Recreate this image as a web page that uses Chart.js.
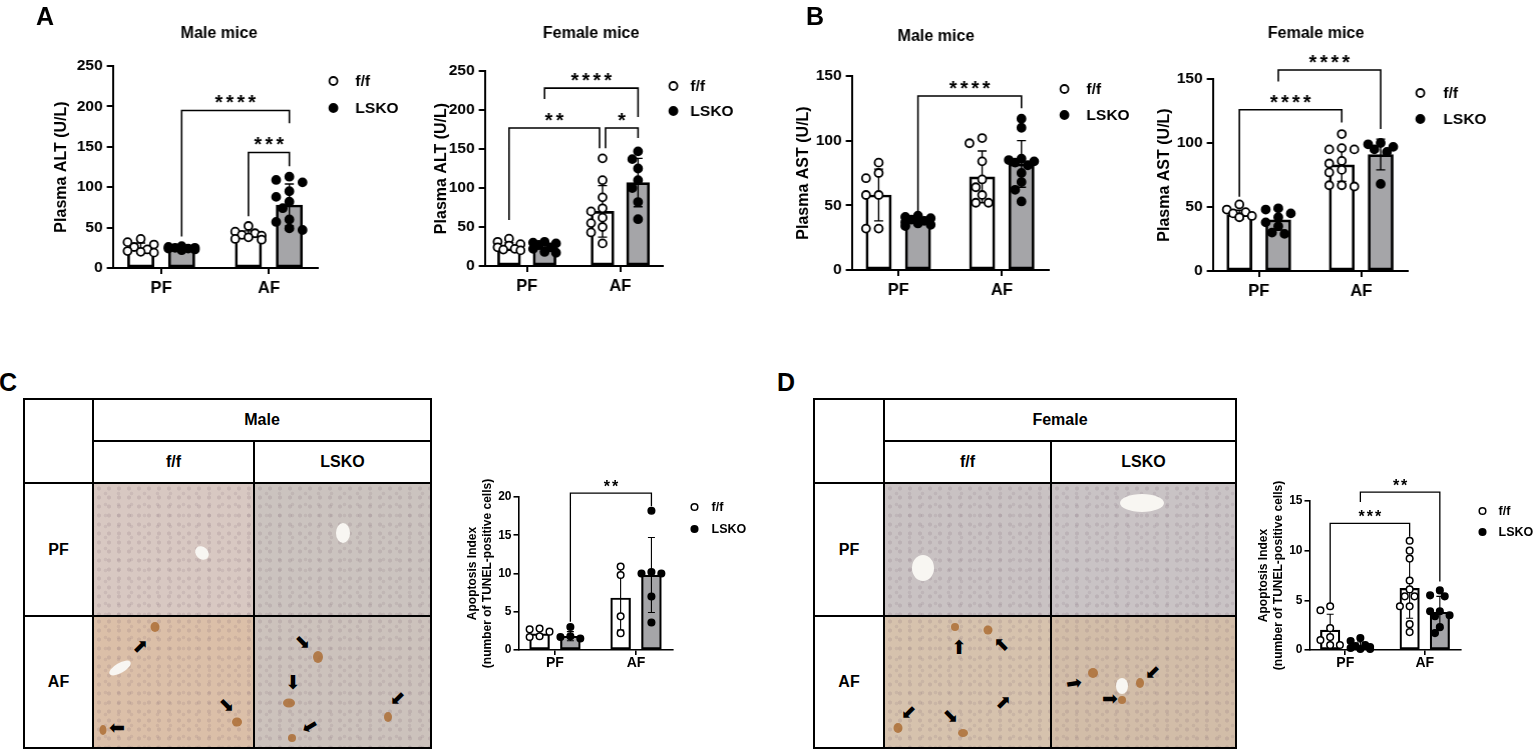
<!DOCTYPE html>
<html>
<head>
<meta charset="utf-8">
<script src="https://cdn.jsdelivr.net/npm/chart.js@4.4.0/dist/chart.umd.min.js"></script>
<style>
  body { margin: 0; background: #fff; font-family: 'Liberation Sans', Arial, sans-serif; }
  #page { position: relative; width: 1535px; height: 752px; overflow: hidden; background: #fff; }
  .box { position: absolute; }
  .letter { position: absolute; font-weight: bold; font-size: 25px; line-height: 1; }
  .cell { position: absolute; box-sizing: border-box; border: 2px solid #000; display: flex;
          align-items: center; justify-content: center; font-weight: bold; font-size: 16px; background: #fff; overflow: hidden; }
  .tissue { background-image:
      radial-gradient(circle, rgba(120,95,110,0.17) 0 1.7px, transparent 2.4px),
      radial-gradient(circle, rgba(120,95,110,0.13) 0 1.5px, transparent 2.2px);
    background-size: 10px 9px, 13px 11px; background-position: 0 0, 5px 4px; }
  .vessel { position: absolute; background: #f8f6f2; border-radius: 50%; transform: translate(-50%, -50%); }
  .tcell { position: absolute; border-radius: 50%; background: rgba(170,105,45,0.8); transform: translate(-50%, -50%); }
  .arrow { position: absolute; font-family: 'DejaVu Sans', sans-serif; font-size: 19px; line-height: 1; color: #000; }
</style>
</head>
<body>
<div id="page"></div>
<script>
const groups = ['PF', 'AF'];
const genotypes = ['f/f', 'LSKO'];

// A - plasma ALT, male mice (per group: [PF], [AF])
const altMaleFF = [[36, 32, 29, 26, 23, 21, 20, 19], [52, 45, 43, 41, 40, 38, 36, 35]];
const altMaleKO = [[27, 26, 25, 25, 24, 24, 23, 22], [113, 109, 106, 95, 88, 82, 74, 60, 57, 49, 47]];
const altMaleMeanFF = [25, 41];
const altMaleMeanKO = [24, 78];
const altMaleSdFF = [6, 5];
const altMaleSdKO = [2, 26];

// A - plasma ALT, female mice
const altFemaleFF = [[35, 31, 28, 26, 24, 22, 21, 20], [138, 110, 88, 74, 70, 62, 55, 50, 43, 29]];
const altFemaleKO = [[31, 30, 29, 27, 24, 22, 18, 17], [147, 137, 125, 110, 100, 82, 60]];
const altFemaleMeanFF = [25, 70];
const altFemaleMeanKO = [24, 107];
const altFemaleSdFF = [5, 33];
const altFemaleSdKO = [5, 31];

// B - plasma AST, male mice
const astMaleFF = [[83, 75, 71, 58, 58, 32, 32], [102, 98, 84, 70, 64, 58, 52, 52]];
const astMaleKO = [[42, 41, 40, 39, 38, 37, 36, 35, 34], [117, 110, 86, 85, 84, 83, 81, 75, 68, 62, 53]];
const astMaleMeanFF = [58, 72];
const astMaleMeanKO = [39, 82];
const astMaleSdFF = [20, 20];
const astMaleSdKO = [3, 18];

// B - plasma AST, female mice
const astFemaleFF = [[52, 48, 46, 45, 43, 42], [107, 96, 95, 95, 86, 84, 79, 77, 67, 67, 66]];
const astFemaleKO = [[49, 48, 45, 42, 38, 35, 30, 29], [100, 99, 97, 95, 93, 68]];
const astFemaleMeanFF = [44, 83];
const astFemaleMeanKO = [40, 91];
const astFemaleSdFF = [3.5, 13];
const astFemaleSdKO = [8, 12];

// C - TUNEL apoptosis index, male
const tunelMaleFF = [[2.8, 2.7, 2.4, 1.8, 1.7], [10.9, 9.8, 4.4, 2.2]];
const tunelMaleKO = [[3.0, 1.8, 1.7, 1.5], [18.2, 10.2, 10.0, 10.0, 7.0, 3.6]];
const tunelMaleMeanFF = [2.1, 6.8];
const tunelMaleMeanKO = [1.8, 9.8];
const tunelMaleSdFF = [0.5, 4.2];
const tunelMaleSdKO = [0.6, 4.9];

// D - TUNEL apoptosis index, female
const tunelFemaleFF = [[4.4, 4.0, 2.2, 1.3, 1.0, 0.5, 0.5], [11.0, 10.0, 9.2, 7.0, 6.1, 5.4, 5.4, 4.4, 4.4, 2.6, 1.8]];
const tunelFemaleKO = [[1.2, 0.9, 0.5, 0.4, 0.3, 0.2, 0.1, 0.1], [6.0, 5.5, 5.4, 3.9, 3.9, 3.5, 3.4, 2.3, 1.7]];
const tunelFemaleMeanFF = [2.0, 6.2];
const tunelFemaleMeanKO = [0.4, 3.8];
const tunelFemaleSdFF = [1.6, 3.0];
const tunelFemaleSdKO = [0.4, 1.6];

const altTicks = [0, 50, 100, 150, 200, 250];
const astTicks = [0, 50, 100, 150];
const tunelMaleTicks = [0, 5, 10, 15, 20];
const tunelFemaleTicks = [0, 5, 10, 15];

// ---- layout / style ----
const X_MIN = -0.45, X_MAX = 1.45, BAR_W = 0.245, BAR_OFF = 0.19, XH = 30;
const bigStyle = { tick: 15.5, x: 16.5, xPad: 5, yTitle: 16, yLH: 1.2, legend: 15.5, legR: 4, ptR: 4, ptBW: 1.8,
  barBW: 2.7, axisW: 2, tickLen: 6, capW: 9, errW: 1.4, star: 20, pitch: 11, brW: 1.6, title: 16 };
const smallStyle = { tick: 12, x: 14, xPad: 0, yTitle: 12, yLH: 1.25, legend: 12.5, legR: 3.3, ptR: 3.3, ptBW: 1.5,
  barBW: 2.2, axisW: 1.6, tickLen: 5, capW: 7, errW: 1.1, star: 16, pitch: 8.2, brW: 1.3, title: 14 };
const GREY = '#a5a5a8';
const FONT = "'Liberation Sans', Arial, sans-serif";

Chart.defaults.font.family = FONT;
Chart.defaults.font.weight = 'bold';
Chart.defaults.color = '#000';

const panels = [
  { big: true, title: 'Male mice', titleX: 219, titleY: 34, yLabel: 'Plasma ALT (U/L)', yLabelX: 62,
    area: { l: 113, r: 317, t: 66, b: 268 }, box: { t: 20, b: 305, r: 430 }, ticks: altTicks,
    ff: altMaleFF, ko: altMaleKO, meanFF: altMaleMeanFF, meanKO: altMaleMeanKO, sdFF: altMaleSdFF, sdKO: altMaleSdKO,
    legend: { cx: 333, tx: 355, y: [81, 108] },
    brackets: [ { text: '****', a: [0, 1], b: [1, 1], y: 195, ya: 39, yb: 179 },
                { text: '***', a: [1, 0], b: [1, 1], y: 143, ya: 64, yb: 126 } ] },
  { big: true, title: 'Female mice', titleX: 591, titleY: 34, yLabel: 'Plasma ALT (U/L)', yLabelX: 442,
    area: { l: 485, r: 662, t: 71, b: 266 }, box: { t: 20, b: 305, r: 760 }, ticks: altTicks,
    ff: altFemaleFF, ko: altFemaleKO, meanFF: altFemaleMeanFF, meanKO: altFemaleMeanKO, sdFF: altFemaleSdFF, sdKO: altFemaleSdKO,
    legend: { cx: 673, tx: 690, y: [86, 111] },
    brackets: [ { text: '****', a: [0, 1], b: [1, 1], y: 228, ya: 214, yb: 191 },
                { text: '**', a: [0, 0], b: [1, 0], y: 177, ya: 59, yb: 151, nb: -3 },
                { text: '*', a: [1, 0], b: [1, 1], y: 177, ya: 151, yb: 164, na: 3 } ] },
  { big: true, title: 'Male mice', titleX: 936, titleY: 37, yLabel: 'Plasma AST (U/L)', yLabelX: 804,
    area: { l: 852, r: 1048, t: 76, b: 270 }, box: { t: 20, b: 305, r: 1140 }, ticks: astTicks,
    ff: astMaleFF, ko: astMaleKO, meanFF: astMaleMeanFF, meanKO: astMaleMeanKO, sdFF: astMaleSdFF, sdKO: astMaleSdKO,
    legend: { cx: 1064, tx: 1086, y: [89, 115] },
    brackets: [ { text: '****', a: [0, 1], b: [1, 1], y: 134.5, ya: 44, yb: 125 } ] },
  { big: true, title: 'Female mice', titleX: 1316, titleY: 34, yLabel: 'Plasma AST (U/L)', yLabelX: 1165,
    area: { l: 1213, r: 1407, t: 79, b: 271 }, box: { t: 20, b: 305, r: 1535 }, ticks: astTicks,
    ff: astFemaleFF, ko: astFemaleKO, meanFF: astFemaleMeanFF, meanKO: astFemaleMeanKO, sdFF: astFemaleSdFF, sdKO: astFemaleSdKO,
    legend: { cx: 1420, tx: 1443, y: [93, 119] },
    brackets: [ { text: '****', a: [0, 0], b: [1, 0], y: 126, ya: 58, yb: 116 },
                { text: '****', a: [0, 1], b: [1, 1], y: 157, ya: 148, yb: 111 } ] },
  { big: false, yLabel: ['Apoptosis Index', '(number of TUNEL-positive cells)'], yLabelX: 472,
    area: { l: 518, r: 672, t: 497, b: 650 }, box: { t: 460, b: 690, r: 780 }, ticks: tunelMaleTicks,
    ff: tunelMaleFF, ko: tunelMaleKO, meanFF: tunelMaleMeanFF, meanKO: tunelMaleMeanKO, sdFF: tunelMaleSdFF, sdKO: tunelMaleSdKO,
    legend: { cx: 694, tx: 711, y: [507, 529] },
    brackets: [ { text: '**', a: [0, 1], b: [1, 1], y: 20.5, ya: 3.7, yb: 18.8 } ] },
  { big: false, yLabel: ['Apoptosis Index', '(number of TUNEL-positive cells)'], yLabelX: 1263,
    area: { l: 1309, r: 1460, t: 501, b: 650 }, box: { t: 460, b: 690, r: 1535 }, ticks: tunelFemaleTicks,
    ff: tunelFemaleFF, ko: tunelFemaleKO, meanFF: tunelFemaleMeanFF, meanKO: tunelFemaleMeanKO, sdFF: tunelFemaleSdFF, sdKO: tunelFemaleSdKO,
    legend: { cx: 1482, tx: 1498, y: [511, 532] },
    brackets: [ { text: '***', a: [0, 0], b: [1, 0], y: 12.75, ya: 4.7, yb: 11.4 },
                { text: '**', a: [0, 1], b: [1, 1], y: 15.9, ya: 14.9, yb: 6.9 } ] }
];

const page = document.getElementById('page');

// spread points sideways inside a bar so they don't pile up (deterministic)
function swarm(vals, pxY, dia, step) {
  const placed = [];
  return vals.map(v => {
    let best = 0, bestCost = Infinity;
    for (const k of [0, -1, 1, -2, 2]) {
      const c = k * step;
      let cost = Math.abs(k) * 0.01;
      for (const q of placed) {
        const d = Math.hypot(c - q.x, (v - q.v) * pxY);
        if (d < dia) cost += dia - d;
      }
      if (cost < bestCost) { bestCost = cost; best = c; }
    }
    placed.push({ x: best, v });
    return best;
  });
}

function buildChart(p) {
  const st = p.big ? bigStyle : smallStyle;
  const lh = st.yTitle * st.yLH;
  const L = p.yLabelX - lh / 2;
  const T = p.box.t;
  const div = document.createElement('div');
  div.className = 'box';
  Object.assign(div.style, { left: L + 'px', top: T + 'px', width: (p.box.r - L) + 'px', height: (p.box.b - T) + 'px' });
  const cv = document.createElement('canvas');
  div.appendChild(cv);
  page.appendChild(div);

  const ymax = p.ticks[p.ticks.length - 1];
  const pxX = (p.area.r - p.area.l) / (X_MAX - X_MIN);
  const pxY = (p.area.b - p.area.t) / ymax;
  const barW = BAR_W * pxX;

  const series = [
    { label: genotypes[0], pts: p.ff, mean: p.meanFF, sd: p.sdFF, fill: '#fff', dot: '#fff', sign: -1 },
    { label: genotypes[1], pts: p.ko, mean: p.meanKO, sd: p.sdKO, fill: GREY, dot: '#000', sign: 1 }
  ];
  const datasets = [];
  series.forEach(s => {
    datasets.push({
      type: 'bar', label: s.label, sd: s.sd,
      data: s.mean.map((m, g) => ({ x: g + s.sign * BAR_OFF, y: m })),
      backgroundColor: s.fill, borderColor: '#000', borderWidth: st.barBW, borderSkipped: false,
      barThickness: barW, grouped: false, order: 2
    });
  });
  series.forEach(s => {
    const data = [];
    s.pts.forEach((vals, g) => {
      const jit = swarm(vals, pxY, (2 * st.ptR + st.ptBW) * 0.9, barW / 4);
      vals.forEach((v, i) => data.push({ x: g + s.sign * BAR_OFF + jit[i] / pxX, y: v }));
    });
    datasets.push({
      type: 'scatter', label: s.label, data, showLine: false, clip: false, order: 0,
      pointRadius: st.ptR, pointBackgroundColor: s.dot, pointBorderColor: '#000', pointBorderWidth: st.ptBW
    });
  });

  const overlay = {
    id: 'overlay',
    afterDatasetDraw(chart, args) {
      const ds = chart.data.datasets[args.index];
      if (!ds.sd) return;
      const ctx = chart.ctx, ys = chart.scales.y;
      ctx.save();
      ctx.strokeStyle = '#000';
      ctx.lineWidth = st.errW;
      args.meta.data.forEach((el, i) => {
        const m = ds.data[i].y, sd = ds.sd[i];
        const y1 = ys.getPixelForValue(m + sd), y2 = ys.getPixelForValue(Math.max(0, m - sd));
        ctx.beginPath();
        ctx.moveTo(el.x, y1); ctx.lineTo(el.x, y2);
        ctx.moveTo(el.x - st.capW / 2, y1); ctx.lineTo(el.x + st.capW / 2, y1);
        ctx.moveTo(el.x - st.capW / 2, y2); ctx.lineTo(el.x + st.capW / 2, y2);
        ctx.stroke();
      });
      ctx.restore();
    },
    afterDraw(chart) {
      const ctx = chart.ctx, xs = chart.scales.x, ys = chart.scales.y;
      ctx.save();
      ctx.fillStyle = '#000';
      ctx.strokeStyle = '#000';
      if (p.title) {
        ctx.font = `bold ${st.title}px ${FONT}`;
        ctx.textAlign = 'center';
        ctx.textBaseline = 'middle';
        ctx.fillText(p.title, p.titleX - L, p.titleY - T);
      }
      // legend
      genotypes.forEach((g, i) => {
        const y = p.legend.y[i] - T;
        ctx.beginPath();
        ctx.arc(p.legend.cx - L, y, st.legR, 0, Math.PI * 2);
        ctx.fillStyle = i ? '#000' : '#fff';
        ctx.fill();
        ctx.lineWidth = st.ptBW;
        ctx.stroke();
        ctx.fillStyle = '#000';
        ctx.font = `bold ${st.legend}px ${FONT}`;
        ctx.textAlign = 'left';
        ctx.textBaseline = 'middle';
        ctx.fillText(g, p.legend.tx - L, y + 1);
      });
      // significance brackets
      const bx = (e, n) => xs.getPixelForValue(e[0] + (e[1] ? BAR_OFF : -BAR_OFF)) + (n || 0);
      ctx.lineWidth = st.brW;
      ctx.font = `bold ${st.star}px ${FONT}`;
      ctx.textAlign = 'center';
      ctx.textBaseline = 'alphabetic';
      p.brackets.forEach(br => {
        const x1 = bx(br.a, br.na), x2 = bx(br.b, br.nb);
        const y = ys.getPixelForValue(br.y);
        ctx.beginPath();
        ctx.moveTo(x1, ys.getPixelForValue(br.ya));
        ctx.lineTo(x1, y);
        ctx.lineTo(x2, y);
        ctx.lineTo(x2, ys.getPixelForValue(br.yb));
        ctx.stroke();
        const n = br.text.length, cx = (x1 + x2) / 2;
        for (let i = 0; i < n; i++) ctx.fillText('*', cx + (i - (n - 1) / 2) * st.pitch, y - 1);
      });
      ctx.restore();
    }
  };

  new Chart(cv, {
    type: 'bar',
    data: { datasets },
    options: {
      responsive: true, maintainAspectRatio: false, animation: false, events: [],
      layout: { padding: { left: 0, top: p.area.t - T, right: p.box.r - p.area.r, bottom: p.box.b - p.area.b - XH } },
      plugins: { legend: { display: false }, tooltip: { enabled: false } },
      scales: {
        x: {
          type: 'linear', min: X_MIN, max: X_MAX, offset: false,
          afterBuildTicks: s => { s.ticks = groups.map((_, i) => ({ value: i })); },
          afterFit: s => { s.height = XH; },
          ticks: { callback: v => groups[v], color: '#000', font: { size: st.x, weight: 'bold' }, padding: st.xPad, maxRotation: 0, autoSkip: false },
          grid: { drawOnChartArea: false, offset: false, color: '#000', lineWidth: st.axisW, tickLength: st.tickLen },
          border: { color: '#000', width: st.axisW }
        },
        y: {
          type: 'linear', min: 0, max: ymax,
          afterBuildTicks: s => { s.ticks = p.ticks.map(v => ({ value: v })); },
          afterFit: s => { s.width = p.area.l - L; },
          ticks: { color: '#000', font: { size: st.tick, weight: 'bold' }, padding: p.big ? 4 : 2 },
          grid: { drawOnChartArea: false, color: '#000', lineWidth: st.axisW, tickLength: st.tickLen },
          border: { color: '#000', width: st.axisW },
          title: { display: true, text: p.yLabel, color: '#000', padding: 0,
                   font: { size: st.yTitle, weight: 'bold', lineHeight: st.yLH } }
        }
      }
    },
    plugins: [overlay]
  });
}

panels.forEach(buildChart);

// ---- histology tables (C, D) ----
function addCell(x1, y1, x2, y2, text, cls, bg) {
  const c = document.createElement('div');
  c.className = 'cell' + (cls ? ' ' + cls : '');
  Object.assign(c.style, { left: (x1 - 1) + 'px', top: (y1 - 1) + 'px', width: (x2 - x1 + 2) + 'px', height: (y2 - y1 + 2) + 'px' });
  if (bg) c.style.backgroundColor = bg;
  if (text) c.textContent = text;
  page.appendChild(c);
}
function addDeco(cls, x, y, w, h, rot) {
  const d = document.createElement('div');
  d.className = cls;
  Object.assign(d.style, { left: x + 'px', top: y + 'px', width: w + 'px', height: h + 'px' });
  if (rot) d.style.transform = `translate(-50%, -50%) rotate(${rot}deg)`;
  page.appendChild(d);
}
function addArrow(x, y, deg) {
  const a = document.createElement('div');
  a.className = 'arrow';
  a.textContent = '\u27A1';
  Object.assign(a.style, { left: x + 'px', top: y + 'px', transform: `translate(-50%, -50%) rotate(${deg}deg)` });
  page.appendChild(a);
}
function addTable(cols, rows, header, tissue) {
  addCell(cols[0], rows[0], cols[1], rows[2], '');
  addCell(cols[1], rows[0], cols[3], rows[1], header);
  addCell(cols[1], rows[1], cols[2], rows[2], genotypes[0]);
  addCell(cols[2], rows[1], cols[3], rows[2], genotypes[1]);
  addCell(cols[0], rows[2], cols[1], rows[3], groups[0]);
  addCell(cols[0], rows[3], cols[1], rows[4], groups[1]);
  addCell(cols[1], rows[2], cols[2], rows[3], '', 'tissue', tissue[0]);
  addCell(cols[2], rows[2], cols[3], rows[3], '', 'tissue', tissue[1]);
  addCell(cols[1], rows[3], cols[2], rows[4], '', 'tissue', tissue[2]);
  addCell(cols[2], rows[3], cols[3], rows[4], '', 'tissue', tissue[3]);
}
const tableRows = [399, 441, 483, 616, 748];
addTable([24, 93, 254, 431], tableRows, 'Male', ['#d8c8c2', '#cbc3bf', '#dbbfa8', '#ccc2bc']);
addTable([814, 884, 1051, 1236], tableRows, 'Female', ['#c9c2c3', '#c9c3c5', '#d6c2ad', '#d2bda8']);

// vessels and TUNEL-positive cells in the micrographs
[[202, 553, 15, 12, 45], [343, 533, 14, 20, 0], [120, 668, 24, 10, -30],
 [923, 568, 22, 26, 0], [1142, 503, 44, 18, 0], [1122, 686, 12, 16, 0]]
  .forEach(v => addDeco('vessel', v[0], v[1], v[2], v[3], v[4]));
[[155, 627, 9, 10], [237, 722, 10, 9], [103, 730, 7, 10],
 [318, 657, 10, 12], [289, 703, 12, 9], [388, 717, 8, 10], [292, 738, 8, 8],
 [988, 630, 9, 9], [955, 627, 8, 8], [898, 728, 9, 10], [963, 733, 10, 8],
 [1093, 673, 10, 10], [1122, 700, 8, 8], [1140, 683, 8, 10]]
  .forEach(c => addDeco('tcell', c[0], c[1], c[2], c[3]));
[[140, 646, 315], [227, 705, 45], [117, 728, 180],
 [303, 642, 45], [293, 682, 90], [398, 699, 135], [310, 727, 150],
 [958, 647, 270], [1001, 645, 225], [1003, 702, 315], [909, 713, 135], [951, 716, 45],
 [1074, 683, -10], [1110, 698, 0], [1153, 673, 135]]
  .forEach(a => addArrow(a[0], a[1], a[2]));

// panel letters
[['A', 36, 4], ['B', 806, 4], ['C', -1, 370], ['D', 777, 370]].forEach(l => {
  const d = document.createElement('div');
  d.className = 'letter';
  d.textContent = l[0];
  Object.assign(d.style, { left: l[1] + 'px', top: l[2] + 'px' });
  page.appendChild(d);
});
</script>
</body>
</html>
